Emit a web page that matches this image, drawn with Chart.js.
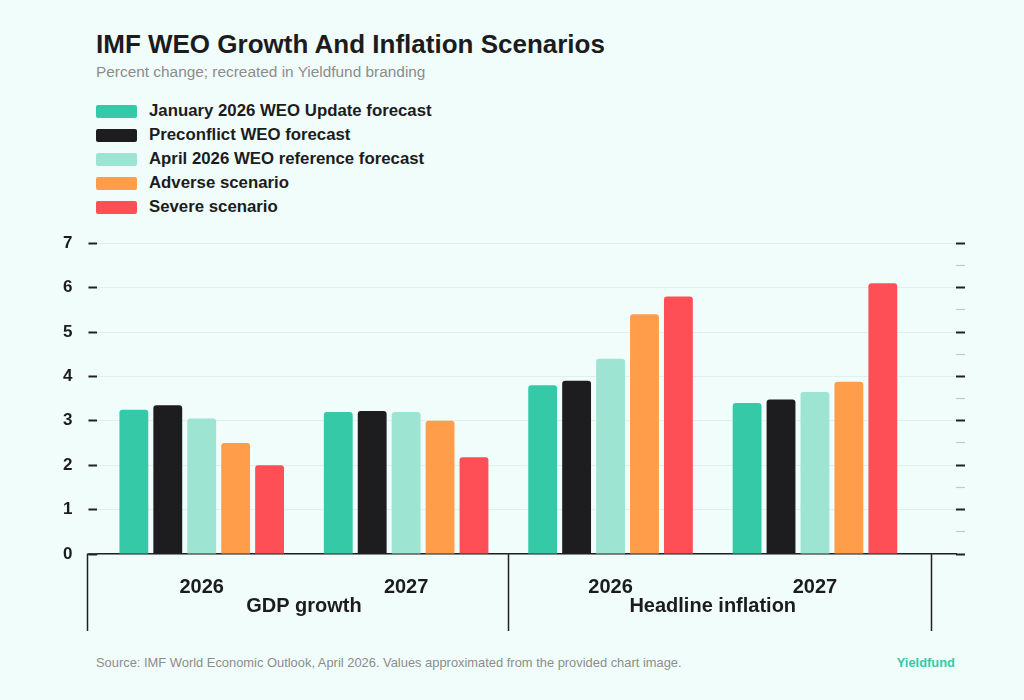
<!DOCTYPE html>
<html>
<head>
<meta charset="utf-8">
<title>IMF WEO Growth And Inflation Scenarios</title>
<script src="https://cdn.jsdelivr.net/npm/chart.js@4.4.1/dist/chart.umd.min.js"></script>
<style>
  body { margin: 0; background: #f1fdfb; font-family: "Liberation Sans", Arial, sans-serif; }
  #page { position: relative; width: 1024px; height: 700px; overflow: hidden; }
  #title { position: absolute; left: 96px; top: 31px; margin: 0; font-size: 26px; line-height: 1; font-weight: bold; color: #1c1c1e; }
  #subtitle { position: absolute; left: 96px; top: 64px; font-size: 15.4px; line-height: 1; color: #8c8c8c; }
  #legend { position: absolute; left: 96px; top: 99px; }
  .row { display: flex; align-items: center; height: 24px; }
  .sw { width: 41px; height: 13px; border-radius: 2px; margin-right: 12px; }
  .lbl { font-size: 16.8px; font-weight: bold; color: #1c1c1e; }
  #chartBox { position: absolute; left: 0; top: 217px; }
  #source { position: absolute; left: 96px; top: 657px; font-size: 12.9px; line-height: 1; color: #8c8c8c; }
  #brand { position: absolute; right: 69px; top: 657px; font-size: 12.9px; line-height: 1; font-weight: bold; color: #35c9a8; }
</style>
</head>
<body>
<div id="page">
  <h1 id="title">IMF WEO Growth And Inflation Scenarios</h1>
  <div id="subtitle">Percent change; recreated in Yieldfund branding</div>
  <div id="legend"></div>
  <div id="chartBox"><canvas id="myChart" width="1024" height="425"></canvas></div>
  <div id="source">Source: IMF World Economic Outlook, April 2026. Values approximated from the provided chart image.</div>
  <div id="brand">Yieldfund</div>
</div>
<script>
// chart data
var groups = ['GDP growth', 'Headline inflation'];
var years = ['2026', '2027', '2026', '2027'];
var seriesNames = ['January 2026 WEO Update forecast', 'Preconflict WEO forecast', 'April 2026 WEO reference forecast', 'Adverse scenario', 'Severe scenario'];
var seriesColors = ['#35c9a8', '#1d1d1f', '#9de4d3', '#ff9d4b', '#ff4f56'];
var january = [3.25, 3.2, 3.8, 3.4];
var preconflict = [3.35, 3.22, 3.9, 3.48];
var april = [3.05, 3.2, 4.4, 3.65];
var adverse = [2.5, 3.0, 5.4, 3.88];
var severe = [2.0, 2.18, 5.8, 6.1];
var allSeries = [january, preconflict, april, adverse, severe];

// html legend
var legendDiv = document.getElementById('legend');
seriesNames.forEach(function (name, i) {
  var row = document.createElement('div');
  row.className = 'row';
  row.innerHTML = '<span class="sw" style="background:' + seriesColors[i] + '"></span><span class="lbl">' + name + '</span>';
  legendDiv.appendChild(row);
});

var datasets = allSeries.map(function (vals, i) {
  return {
    label: seriesNames[i],
    data: vals.map(function (v, j) { return { x: j, y: v }; }),
    backgroundColor: seriesColors[i],
    borderRadius: 3,
    categoryPercentage: 0.83,
    barPercentage: 0.85
  };
});

var fontFam = '"Liberation Sans", Arial, sans-serif';

// group labels + bracket lines under the x axis
var groupAxis = {
  id: 'groupAxis',
  afterDraw: function (chart) {
    var ctx = chart.ctx;
    var x = chart.scales.x;
    var bottom = chart.chartArea.bottom;
    var edges = [-0.56, 1.5, 3.57];
    ctx.save();
    ctx.strokeStyle = '#222';
    ctx.lineWidth = 1.5;
    ctx.beginPath();
    ctx.moveTo(x.getPixelForValue(edges[0]), bottom);
    ctx.lineTo(chart.chartArea.left, bottom);
    edges.forEach(function (e) {
      var px = Math.round(x.getPixelForValue(e)) + 0.5;
      ctx.moveTo(px, bottom);
      ctx.lineTo(px, bottom + 77);
    });
    ctx.stroke();
    ctx.fillStyle = '#1c1c1e';
    ctx.font = 'bold 20px ' + fontFam;
    ctx.textAlign = 'center';
    ctx.textBaseline = 'middle';
    groups.forEach(function (g, i) {
      ctx.fillText(g, x.getPixelForValue(i * 2 + 0.5), bottom + 52);
    });
    ctx.restore();
  }
};

var majorOrMinor = function (dark, light) {
  return function (c) { return (c.tick && c.tick.value % 1 === 0) ? dark : light; };
};

var myChart = new Chart(document.getElementById('myChart').getContext('2d'), {
  type: 'bar',
  data: { datasets: datasets },
  plugins: [groupAxis],
  options: {
    responsive: false,
    animation: false,
    layout: { padding: { top: 10, left: 47, right: 59, bottom: 30 } },
    plugins: { legend: { display: false }, tooltip: { enabled: false } },
    scales: {
      x: {
        type: 'linear',
        offset: false,
        min: -0.51,
        max: 3.69,
        afterBuildTicks: function (scale) {
          scale.ticks = years.map(function (y, i) { return { value: i }; });
        },
        ticks: {
          padding: 13,
          color: '#1c1c1e',
          font: { family: fontFam, size: 20, weight: 'bold' },
          callback: function (v) { return years[v]; }
        },
        grid: { display: false },
        border: { display: true, color: '#222', width: 1.5 }
      },
      y: {
        min: 0,
        max: 7,
        ticks: {
          stepSize: 0.5,
          padding: 16,
          color: '#1c1c1e',
          font: { family: fontFam, size: 17, weight: 'bold' },
          callback: function (v) { return v % 1 === 0 ? v : ''; }
        },
        grid: {
          tickLength: 9,
          color: majorOrMinor('#e3efec', 'rgba(0,0,0,0)'),
          tickColor: majorOrMinor('#222', '#c4c9c8'),
          tickWidth: majorOrMinor(2, 1.2)
        },
        border: { display: false }
      },
      y2: {
        position: 'right',
        min: 0,
        max: 7,
        ticks: { display: false, stepSize: 0.5 },
        grid: {
          drawOnChartArea: false,
          tickLength: 9,
          tickColor: majorOrMinor('#222', '#c4c9c8'),
          tickWidth: majorOrMinor(2, 1.2)
        },
        border: { display: false }
      }
    }
  }
});
</script>
</body>
</html>
